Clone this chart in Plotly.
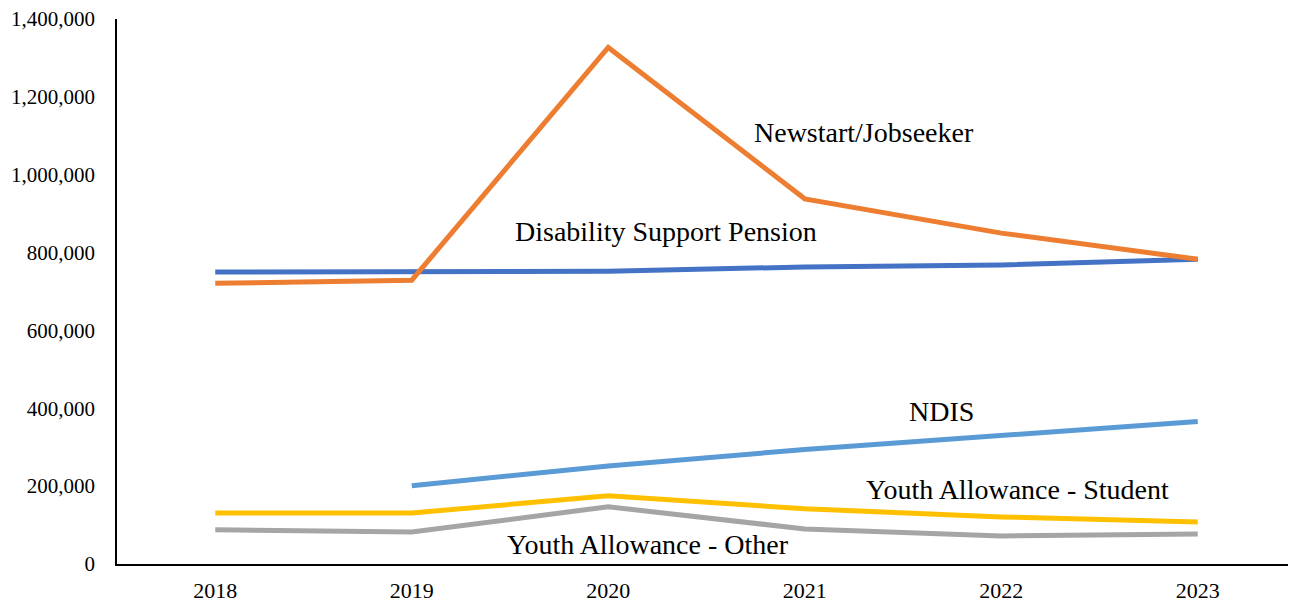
import plotly.graph_objects as go

years = ["2018", "2019", "2020", "2021", "2022", "2023"]
dsp = [750000, 752000, 752000, 763000, 768000, 783000]
newstart = [721000, 729000, 1327000, 938000, 850000, 783000]
ya_other = [88000, 82000, 147000, 90000, 72000, 77000]
ya_student = [131000, 131000, 175000, 142000, 121000, 108000]
ndis = [None, 201000, 252000, 294000, 330000, 366000]

series = [
    ("Disability Support Pension", dsp, "#4472C4"),
    ("Newstart/Jobseeker", newstart, "#ED7D31"),
    ("Youth Allowance - Other", ya_other, "#A5A5A5"),
    ("Youth Allowance - Student", ya_student, "#FFC000"),
    ("NDIS", ndis, "#5B9BD5"),
]

FONT = "Liberation Serif, Times New Roman, serif"

fig = go.Figure()
for name, vals, color in series:
    fig.add_trace(go.Scatter(x=years, y=vals, mode="lines", name=name,
                             line=dict(color=color, width=5), connectgaps=False))

labels = [
    ("Newstart/Jobseeker", 0.634, 0.791),
    ("Disability Support Pension", 0.466, 0.611),
    ("NDIS", 0.699, 0.279),
    ("Youth Allowance - Student", 0.764, 0.136),
    ("Youth Allowance - Other", 0.450, 0.035),
]
for text, x, y in labels:
    fig.add_annotation(text=text, x=x, y=y, xref="paper", yref="paper",
                       showarrow=False, xanchor="center", yanchor="middle",
                       font=dict(family=FONT, size=28, color="#000000"))

fig.update_layout(
    width=1296, height=605,
    margin=dict(l=109, r=8, t=11, b=49),
    plot_bgcolor="white", paper_bgcolor="white",
    showlegend=False,
    font=dict(family=FONT, size=22, color="#000000"),
)
fig.update_xaxes(type="category", range=[-0.5, 5.5], showgrid=False,
                 showline=True, linecolor="black", linewidth=2, ticks="",
                 automargin=False, ticklabelstandoff=6,
                 tickfont=dict(size=22, family=FONT, color="#000000"))
fig.update_yaxes(range=[0, 1400000], dtick=200000, showgrid=False, zeroline=False,
                 showline=True, linecolor="black", linewidth=2, ticks="",
                 automargin=False,
                 tickformat=",d", ticksuffix="   ", ticklabeloverflow="allow",
                 tickfont=dict(size=21, family=FONT, color="#000000"))

fig.write_html("out.html")
